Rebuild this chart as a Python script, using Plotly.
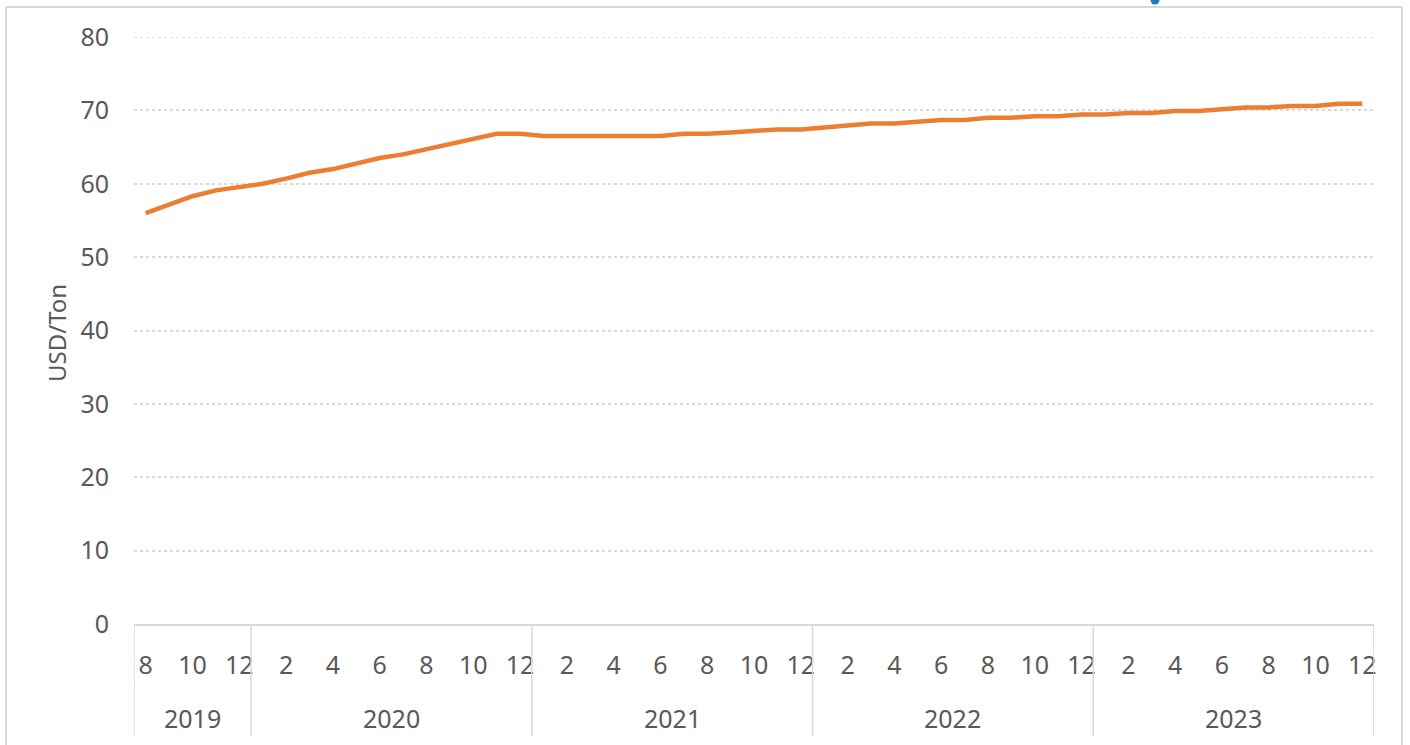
import plotly.graph_objects as go

years = ["2019", "2020", "2021", "2022", "2023"]
months_per_year = [[8, 9, 10, 11, 12]] + [list(range(1, 13))] * 4
values = [
    56.0, 57.2, 58.3, 59.1, 59.6,
    60.0, 60.7, 61.5, 62.0, 62.7, 63.5, 64.0, 64.7, 65.3, 66.0, 66.8, 66.8,
    66.5, 66.5, 66.5, 66.5, 66.5, 66.5, 66.8, 66.8, 67.0, 67.2, 67.4, 67.4,
    67.7, 68.0, 68.2, 68.2, 68.4, 68.7, 68.7, 69.0, 69.0, 69.2, 69.2, 69.45,
    69.45, 69.65, 69.65, 69.9, 69.9, 70.2, 70.4, 70.4, 70.6, 70.6, 70.9, 70.9,
]
y_ticks = [0, 10, 20, 30, 40, 50, 60, 70, 80]

months = [m for ms in months_per_year for m in ms]
x = list(range(len(months)))
tickvals = [i for i, m in enumerate(months) if m % 2 == 0]
ticktext = [str(months[i]) for i in tickvals]

TXT = "#595959"
GRID = "#D9D9D9"
FONT = "Noto Sans"

fig = go.Figure()
fig.add_trace(go.Scatter(x=x, y=values, mode="lines",
                         line=dict(color="#ED7D31", width=4.5, shape="linear"),
                         hoverinfo="skip", showlegend=False))

L, R, T, B = 134, 36, 37, 121
W, H = 1410, 745
pw, ph = W - L - R, H - T - B

def px_x(p):
    return (p - L) / pw

def px_y(p):
    return (H - B - p) / ph

# year separators and labels
bounds = [-0.5]
for ms in months_per_year:
    bounds.append(bounds[-1] + len(ms))
shapes = []
for b in bounds:
    shapes.append(dict(type="line", xref="x", yref="paper", x0=b, x1=b,
                       y0=0, y1=px_y(736), line=dict(color=GRID, width=1.5)))
# top gridline (at range edge)
shapes.append(dict(type="line", xref="paper", yref="y", x0=0, x1=1,
                   y0=y_ticks[-1], y1=y_ticks[-1], layer="below",
                   line=dict(color=GRID, width=1.5, dash="dot")))
annotations = []
for yr, a, b in zip(years, bounds[:-1], bounds[1:]):
    annotations.append(dict(x=(a + b) / 2, y=px_y(718), xref="x", yref="paper",
                            text=yr, showarrow=False, xanchor="center", yanchor="middle",
                            font=dict(family=FONT, size=25, color=TXT)))
annotations.append(dict(x=px_x(57), y=px_y(333), xref="paper", yref="paper",
                        text="USD/Ton", textangle=-90, showarrow=False,
                        xanchor="center", yanchor="middle",
                        font=dict(family=FONT, size=24, color=TXT)))

# outer frame
shapes.append(dict(type="line", xref="paper", yref="paper", x0=px_x(6), x1=px_x(6),
                   y0=px_y(7), y1=px_y(760), line=dict(color=GRID, width=2)))
shapes.append(dict(type="line", xref="paper", yref="paper", x0=px_x(6), x1=px_x(1402),
                   y0=px_y(7), y1=px_y(7), line=dict(color=GRID, width=2)))
shapes.append(dict(type="line", xref="paper", yref="paper", x0=px_x(1402), x1=px_x(1402),
                   y0=px_y(7), y1=px_y(760), line=dict(color=GRID, width=2)))
# partial blue marker at top
shapes.append(dict(type="circle", xref="paper", yref="paper",
                   x0=px_x(1150.5), x1=px_x(1159.5), y0=px_y(4.5), y1=px_y(-4.5),
                   fillcolor="#1C7CC5", line=dict(width=0)))

fig.update_layout(
    width=W, height=H,
    margin=dict(l=L, r=R, t=T, b=B),
    paper_bgcolor="white", plot_bgcolor="white",
    font=dict(family=FONT, color=TXT),
    shapes=shapes, annotations=annotations,
    xaxis=dict(range=[-0.5, len(x) - 0.5], tickmode="array", tickvals=tickvals,
               ticktext=ticktext, showgrid=False, zeroline=False,
               showline=True, linecolor=GRID, linewidth=1.5,
               ticks="", ticklabelstandoff=18,
               tickfont=dict(family=FONT, size=25, color=TXT), fixedrange=True),
    yaxis=dict(range=[0, 80], tickmode="array", tickvals=y_ticks,
               showgrid=True, gridcolor=GRID, gridwidth=1.5, griddash="dot",
               zeroline=False, showline=False, ticks="", ticklabelstandoff=24,
               tickfont=dict(family=FONT, size=25, color=TXT), fixedrange=True),
)

fig.write_html("out.html")
